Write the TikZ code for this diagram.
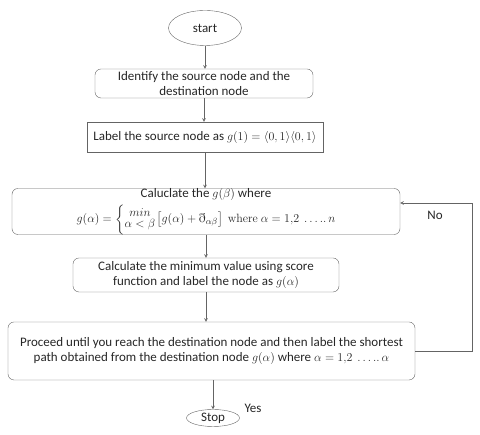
\documentclass[tikz,border=0pt]{standalone}
\usepackage{amsmath}
\usepackage{amssymb}
\usepackage[no-math]{fontspec}
\setmainfont{Carlito}
\usepackage{tikz}
\usetikzlibrary{arrows,shapes.geometric}

\definecolor{linegray}{RGB}{100,100,100}

\begin{document}
\begin{tikzpicture}[x=1pt, y=1pt, >=stealth,
                    every node/.style={font=\fontsize{13}{15}\selectfont, text=black!85},
                    term/.style={draw=linegray, ellipse, inner sep=0pt},
                    rbox/.style={draw=linegray, rounded corners=6pt, align=center, inner sep=1pt},
                    sbox/.style={draw=linegray, align=center, inner sep=1pt},
                    flow/.style={->, draw=linegray, line width=0.6pt}]
\useasboundingbox (0,0) rectangle (480,435);

\node[term, minimum width=73pt, minimum height=35pt] (start) at (205,407) {start};
\node[rbox, minimum width=218pt, minimum height=29pt] (ident) at (204,351.5)
  {Identify the source node and the\\destination node};
\node[sbox, minimum width=236pt, minimum height=30pt] (lbl) at (205,298)
  {Label the source node as $g(1)=\langle 0,1\rangle\langle 0,1\rangle$};
\node[rbox, minimum width=388pt, minimum height=45pt, inner sep=0pt] (calc) at (206,223.5)
  {Caluclate the $g(\beta)$ where\\[3pt]
   \fontsize{12.5}{14}\selectfont
   $g(\alpha)=\left\{\begin{matrix}min\\[-3pt] \alpha<\beta\end{matrix}\right.\!\left[g(\alpha)+\eth_{\alpha\beta}\right]\mathrm{\ where\ }\alpha=1{,}2\ \ldots..\,n$};
\node[rbox, minimum width=266pt, minimum height=34pt] (minval) at (206,160)
  {Calculate the minimum value using score\\function and label the node as $g(\alpha)$};
\node[rbox, minimum width=407pt, minimum height=58pt] (proc) at (211.5,84)
  {Proceed until you reach the destination node and then label the shortest\\
   path obtained from the destination node $g(\alpha)$ where $\alpha=1{,}2\ \ldots..\,\alpha$};
\node[term, minimum width=53pt, minimum height=17pt] (stop) at (213,17) {Stop};

\coordinate (back) at (472,232);

\node (yes) at (253,27) {Yes};
\node (no) at (435,220) {No};

\draw[flow] (start.south) -- (start.south |- ident.north);
\draw[flow] (ident.south) -- (ident.south |- lbl.north);
\draw[flow] (lbl.south) -- (lbl.south |- calc.north);
\draw[flow] (calc.south) -- (calc.south |- minval.north);
\draw[flow] (minval.south) -- (minval.south |- proc.north);
\draw[flow] (proc.south -| stop.north) -- (stop.north);
\draw[flow] (proc.east) -| (back) -- (back -| calc.east);
\end{tikzpicture}
\end{document}
